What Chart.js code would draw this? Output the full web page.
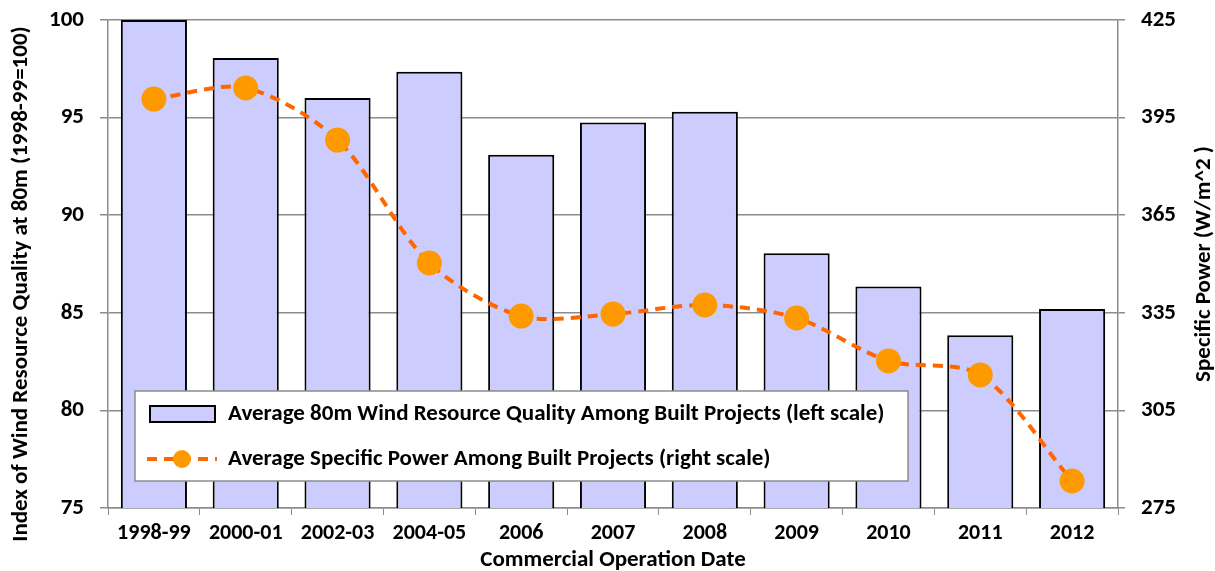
<!DOCTYPE html>
<html>
<head>
<meta charset="utf-8">
<script src="https://cdn.jsdelivr.net/npm/chart.js@4.4.1/dist/chart.umd.min.js"></script>
<style>
  html, body { margin: 0; padding: 0; background: #fff; }
  #wrap { width: 1215px; height: 571px; position: relative; }
</style>
</head>
<body>
<div id="wrap"><canvas id="chart"></canvas></div>
<script>
// values
const periods = ['1998-99', '2000-01', '2002-03', '2004-05', '2006', '2007', '2008', '2009', '2010', '2011', '2012'];
const resourceIndex = [100, 98.05, 96.0, 97.35, 93.1, 94.75, 95.3, 88.05, 86.35, 83.85, 85.2];
const specificPower = [400.7, 404.1, 388.1, 350.3, 334.0, 334.6, 337.4, 333.4, 320.2, 315.9, 283.3];

const barLabel = 'Average 80m Wind Resource Quality Among Built Projects (left scale)';
const lineLabel = 'Average Specific Power Among Built Projects (right scale)';
const leftTitle = 'Index of Wind Resource Quality at 80m (1998-99=100)';
const rightTitle = 'Specific Power (W/m^2 )';
const xTitle = 'Commercial Operation Date';

const FONT = 'Carlito, Calibri, Lato, sans-serif';
const GRID = '#8c8c8c';

// legend box sits inside the plot, plus the three axis titles
const extras = {
    id: 'extras',
    afterDraw(chart) {
        const ctx = chart.ctx;
        const a = chart.chartArea;
        const midY = (a.top + a.bottom) / 2;
        ctx.save();
        ctx.fillStyle = '#000';
        ctx.font = 'bold 23px ' + FONT;
        ctx.textAlign = 'center';
        ctx.textBaseline = 'middle';

        ctx.save();
        ctx.translate(21, midY + 20);
        ctx.rotate(-Math.PI / 2);
        ctx.fillText(leftTitle, 0, 0);
        ctx.restore();

        ctx.save();
        ctx.translate(1204, midY);
        ctx.rotate(-Math.PI / 2);
        ctx.fillText(rightTitle, 0, 0);
        ctx.restore();

        ctx.fillText(xTitle, (a.left + a.right) / 2, 560);

        // legend
        const lx = a.left + 27, ly = 391, lw = 773, lh = 90;
        ctx.fillStyle = '#fff';
        ctx.fillRect(lx, ly, lw, lh);
        ctx.strokeStyle = GRID;
        ctx.lineWidth = 1.5;
        ctx.strokeRect(lx, ly, lw, lh);

        const row1 = ly + 23, row2 = ly + 68;
        ctx.fillStyle = '#ccccff';
        ctx.strokeStyle = '#000';
        ctx.lineWidth = 2;
        ctx.fillRect(lx + 15, row1 - 8, 65, 16);
        ctx.strokeRect(lx + 15, row1 - 8, 65, 16);

        ctx.strokeStyle = '#ff6600';
        ctx.lineWidth = 4;
        ctx.setLineDash([10, 7]);
        ctx.beginPath();
        ctx.moveTo(lx + 12, row2);
        ctx.lineTo(lx + 82, row2);
        ctx.stroke();
        ctx.setLineDash([]);
        ctx.fillStyle = '#ff9900';
        ctx.beginPath();
        ctx.arc(lx + 47, row2, 9, 0, Math.PI * 2);
        ctx.fill();

        ctx.fillStyle = '#000';
        ctx.textAlign = 'left';
        ctx.fillText(barLabel, lx + 93, row1);
        ctx.fillText(lineLabel, lx + 93, row2);
        ctx.restore();
    }
};

new Chart(document.getElementById('chart'), {
    data: {
        labels: periods,
        datasets: [{
            type: 'line',
            label: lineLabel,
            data: specificPower,
            yAxisID: 'yRight',
            borderColor: '#ff6600',
            borderWidth: 4,
            borderDash: [10, 7],
            backgroundColor: '#ff9900',
            pointBackgroundColor: '#ff9900',
            pointBorderWidth: 0,
            pointRadius: 12.5,
            tension: 0.3,
            order: 0
        }, {
            type: 'bar',
            label: barLabel,
            data: resourceIndex,
            yAxisID: 'yLeft',
            backgroundColor: '#ccccff',
            borderColor: '#000',
            borderWidth: 2,
            barPercentage: 0.72,
            categoryPercentage: 1,
            order: 1
        }]
    },
    options: {
        responsive: true,
        maintainAspectRatio: false,
        animation: false,
        layout: { padding: { top: 20, left: 0, right: 0, bottom: 0 } },
        plugins: { legend: { display: false }, tooltip: { enabled: false } },
        scales: {
            x: {
                offset: true,
                afterFit: s => { s.height = 63; },
                grid: { offset: true, drawOnChartArea: false, color: GRID, tickLength: 7 },
                border: { color: GRID, width: 1.5 },
                ticks: { color: '#000', font: { family: FONT, size: 22, weight: 'bold' }, padding: 5, maxRotation: 0 }
            },
            yLeft: {
                position: 'left',
                min: 75, max: 100,
                afterFit: s => { s.width = 108; s.paddingTop = 0; },
                grid: { color: GRID, lineWidth: 1.5, tickLength: 8 },
                border: { color: GRID, width: 1.5 },
                ticks: { stepSize: 5, color: '#000', font: { family: FONT, size: 23, weight: 'bold' }, padding: 16 }
            },
            yRight: {
                position: 'right',
                min: 275, max: 425,
                afterFit: s => { s.width = 97; s.paddingTop = 0; },
                grid: { drawOnChartArea: false, color: GRID, lineWidth: 1.5, tickLength: 7 },
                border: { color: GRID, width: 1.5 },
                ticks: { stepSize: 30, color: '#000', font: { family: FONT, size: 23, weight: 'bold' }, padding: 16 }
            }
        }
    },
    plugins: [extras]
});
</script>
</body>
</html>
